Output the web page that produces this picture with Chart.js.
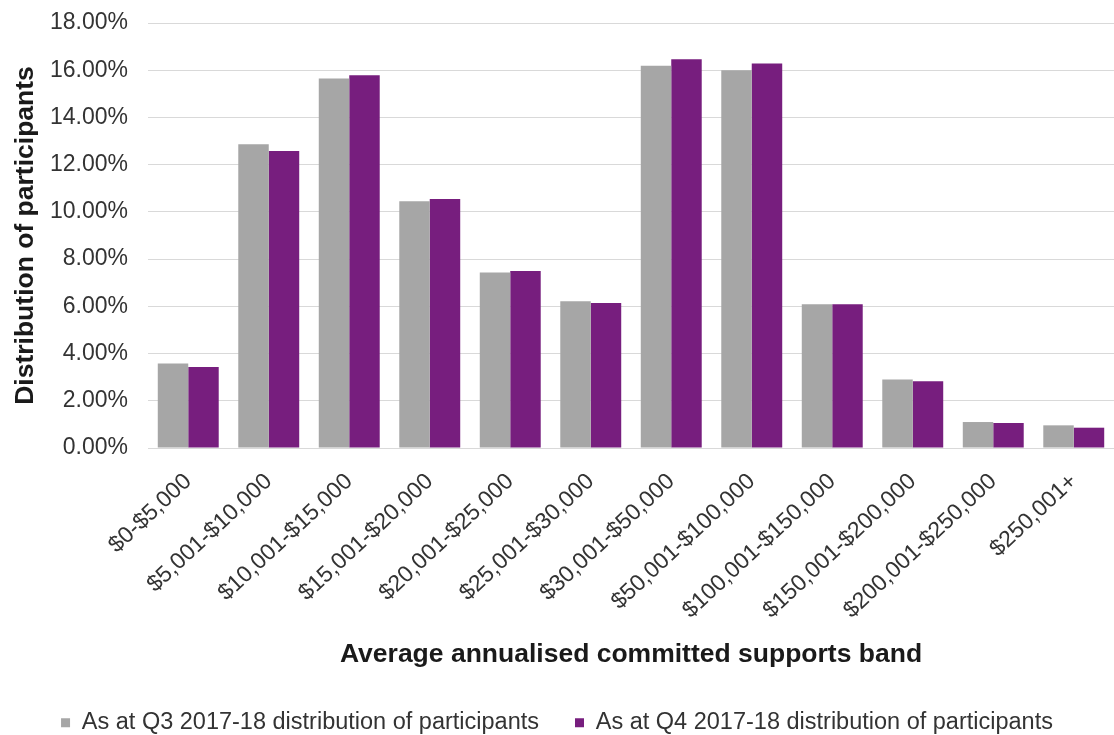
<!DOCTYPE html>
<html>
<head>
<meta charset="utf-8">
<script src="https://cdn.jsdelivr.net/npm/chart.js@4.4.1/dist/chart.umd.min.js"></script>
<style>
  body { margin: 0; background: #fff; }
  canvas { display: block; }
</style>
</head>
<body>
<canvas id="bandChart" width="1114" height="735"></canvas>
<script>
// supports bands on the x axis
var bands = ["$0-$5,000", "$5,001-$10,000", "$10,001-$15,000", "$15,001-$20,000",
    "$20,001-$25,000", "$25,001-$30,000", "$30,001-$50,000", "$50,001-$100,000",
    "$100,001-$150,000", "$150,001-$200,000", "$200,001-$250,000", "$250,001+"];

// % of participants
var q3Values = [3.58, 12.87, 15.65, 10.45, 7.43, 6.22, 16.19, 16.00, 6.09, 2.90, 1.10, 0.96];
var q4Values = [3.43, 12.58, 15.79, 10.55, 7.50, 6.14, 16.47, 16.29, 6.09, 2.83, 1.06, 0.86];

var q3Label = "As at Q3 2017-18 distribution of participants";
var q4Label = "As at Q4 2017-18 distribution of participants";

var yMax = 18;
var yStep = 2;

var fontFamily = "'Liberation Sans', Arial, sans-serif";

function drawChart(){
    var ctx = document.getElementById("bandChart");
    new Chart(ctx, {
        type: "bar",
        data: {
            labels: bands,
            datasets: [{
                label: q3Label,
                data: q3Values,
                backgroundColor: "#a6a6a6",
                borderWidth: 0,
            }, {
                label: q4Label,
                data: q4Values,
                backgroundColor: "#771e7e",
                borderWidth: 0,
            }],
        },
        options: {
            responsive: false,
            animation: false,
            layout: { padding: { top: 23, right: 0, left: 0, bottom: 0 } },
            datasets: { bar: { categoryPercentage: 0.757, barPercentage: 1 } },
            plugins: {
                tooltip: { enabled: false },
                legend: {
                    position: "bottom",
                    maxHeight: 60,
                    labels: {
                        boxWidth: 9,
                        boxHeight: 9,
                        padding: 36,
                        color: "#333",
                        font: { family: fontFamily, size: 23.5 },
                    },
                },
            },
            scales: {
                x: {
                    grid: { display: false, drawTicks: false },
                    border: { display: false },
                    ticks: {
                        autoSkip: false,
                        minRotation: 43,
                        maxRotation: 43,
                        padding: 20,
                        color: "#333",
                        font: { family: fontFamily, size: 23 },
                    },
                    title: {
                        display: true,
                        text: "Average annualised committed supports band",
                        color: "#1a1a1a",
                        padding: { top: 0, bottom: 4 },
                        font: { family: fontFamily, size: 26.5, weight: "bold" },
                    },
                    afterFit: function(scale){ scale.height = 227; },
                },
                y: {
                    min: 0,
                    max: yMax,
                    grid: { color: "#d9d9d9", lineWidth: 1, drawTicks: false },
                    border: { display: false },
                    ticks: {
                        stepSize: yStep,
                        padding: 20,
                        color: "#333",
                        font: { family: fontFamily, size: 23 },
                        callback: function(v){ return v.toFixed(2) + "%"; },
                    },
                    title: {
                        display: true,
                        text: "Distribution of participants",
                        color: "#1a1a1a",
                        padding: { top: 10, bottom: 0 },
                        font: { family: fontFamily, size: 26.5, weight: "bold" },
                    },
                    afterFit: function(scale){
                        scale.width = 148;
                        scale.paddingTop = 0;
                        scale.paddingBottom = 0;
                    },
                },
            },
        },
    });
}

drawChart();
</script>
</body>
</html>
